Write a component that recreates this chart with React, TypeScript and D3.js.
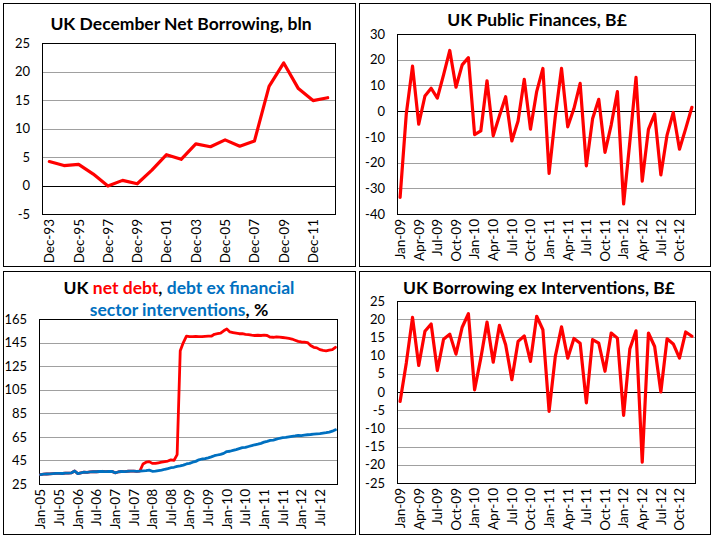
import React, { useEffect, useRef } from "react";
import * as d3 from "d3";

// Panel 1: December net borrowing
const decYears = [
  "Dec-93", "Dec-94", "Dec-95", "Dec-96", "Dec-97", "Dec-98", "Dec-99", "Dec-00", "Dec-01", "Dec-02",
  "Dec-03", "Dec-04", "Dec-05", "Dec-06", "Dec-07", "Dec-08", "Dec-09", "Dec-10", "Dec-11", "Dec-12",
];
const decBorrowing = [4.2, 3.5, 3.7, 2.0, -0.1, 0.9, 0.3, 2.7, 5.4, 4.6, 7.3, 6.8, 8.0, 6.9, 7.8, 17.4, 21.5, 17.0, 14.9, 15.4];
const decTicks = ["Dec-93", "Dec-95", "Dec-97", "Dec-99", "Dec-01", "Dec-03", "Dec-05", "Dec-07", "Dec-09", "Dec-11"];
const decYTicks = [-5, 0, 5, 10, 15, 20, 25];

// Panels 2 and 4: monthly 2009-2012
const fmtMonth = d3.timeFormat("%b-%y");
const finMonths = d3.timeMonth.range(new Date(2009, 0, 1), new Date(2013, 0, 1)).map(fmtMonth);
const publicFinances = [
  -33.5, -1, 17.5, -5.1, 5.9, 8.9, 5.1, 14.1, 23.6, 9.3, 18.0, 20.8,
  -9.1, -7.7, 11.8, -9.6, -1.8, 5.6, -11.6, -3.8, 12.4, -7.0, 7.6, 16.6,
  -24.2, -2.0, 16.6, -6.1, 1.0, 10.8, -21.3, -3.0, 4.6, -16.0, -5.4, 7.6,
  -36.1, -12.0, 13.1, -27.2, -7.1, -1.1, -24.8, -9.3, -0.5, -14.8, -6.8, 1.5,
];
const finTicks = [
  "Jan-09", "Apr-09", "Jul-09", "Oct-09", "Jan-10", "Apr-10", "Jul-10", "Oct-10",
  "Jan-11", "Apr-11", "Jul-11", "Oct-11", "Jan-12", "Apr-12", "Jul-12", "Oct-12",
];
const finYTicks = [-40, -30, -20, -10, 0, 10, 20, 30];

const exInterventions = [
  -2.6, 8.0, 20.5, 7.3, 16.7, 18.7, 5.9, 14.5, 15.9, 10.4, 17.8, 21.5,
  0.6, 9.3, 19.2, 8.2, 18.3, 13.0, 3.4, 13.9, 15.4, 8.4, 20.8, 17.1,
  -5.3, 9.8, 17.9, 9.3, 14.7, 13.4, -3.0, 14.4, 13.4, 5.7, 16.2, 14.8,
  -6.4, 11.8, 16.8, -19.3, 16.2, 12.5, 0.0, 14.6, 13.2, 9.3, 16.5, 15.3,
];
const exYTicks = [-25, -20, -15, -10, -5, 0, 5, 10, 15, 20, 25];

// Panel 3: net debt, monthly 2005-2012
const debtMonths = d3.timeMonth.range(new Date(2005, 0, 1), new Date(2013, 0, 1)).map(fmtMonth);
const netDebt = [
  33.0, 33.3, 33.5, 33.6, 33.8, 34.0, 34.0, 33.9, 34.2, 34.3, 34.5, 36.0,
  33.8, 34.5, 35.0, 34.8, 35.2, 35.5, 35.4, 35.6, 35.8, 35.5, 35.6, 35.7,
  34.5, 35.2, 35.6, 35.5, 35.8, 35.9, 36.0, 35.8, 36.0, 42.0, 43.5, 44.0,
  42.5, 42.5, 43.0, 43.5, 44.0, 44.5, 45.5, 45.0, 50.0, 138.0, 145.0, 150.5,
  150.0, 150.0, 150.2, 150.0, 150.0, 150.3, 150.5, 150.4, 152.0, 152.5, 153.0, 155.0,
  156.5, 154.0, 153.5, 153.0, 152.5, 152.6, 152.0, 151.8, 151.3, 151.0, 151.2, 151.0,
  151.3, 151.0, 149.6, 149.5, 149.8, 149.6, 149.3, 149.0, 148.5, 148.0, 147.0, 146.0,
  145.5, 145.3, 145.0, 142.5, 141.0, 140.5, 139.0, 138.3, 138.0, 138.5, 139.0, 141.0,
];
const debtExFin = [
  33.0, 33.3, 33.5, 33.6, 33.8, 34.0, 34.0, 33.9, 34.2, 34.3, 34.5, 36.0,
  33.8, 34.5, 35.0, 34.8, 35.2, 35.5, 35.4, 35.6, 35.8, 35.5, 35.6, 35.7,
  34.5, 35.2, 35.6, 35.5, 35.8, 35.9, 36.0, 35.8, 36.0, 36.2, 36.3, 36.8,
  35.8, 36.0, 36.4, 36.8, 37.5, 38.0, 38.8, 39.2, 40.0, 40.3, 41.0, 42.0,
  42.5, 43.5, 44.2, 45.5, 46.2, 46.5, 47.2, 48.0, 49.0, 49.6, 50.2, 51.0,
  52.5, 52.8, 53.5, 54.2, 55.0, 55.8, 56.0, 56.8, 57.5, 58.3, 58.8, 59.5,
  60.5, 61.2, 62.0, 62.3, 63.0, 63.8, 64.3, 64.5, 65.0, 65.5, 65.8, 66.2,
  66.0, 66.5, 66.8, 67.0, 67.3, 67.6, 67.8, 68.2, 68.5, 69.0, 69.8, 71.0,
];
const debtTicks = [
  "Jan-05", "Jul-05", "Jan-06", "Jul-06", "Jan-07", "Jul-07", "Jan-08", "Jul-08",
  "Jan-09", "Jul-09", "Jan-10", "Jul-10", "Jan-11", "Jul-11", "Jan-12", "Jul-12",
];
const debtYTicks = [25, 45, 65, 85, 105, 125, 145, 165];

const RED = "#FF0000";
const BLUE = "#0070C0";
const FONT = "Lato, 'DejaVu Sans', sans-serif";

interface Series {
  values: number[];
  color: string;
  width: number;
}

interface PanelOpts {
  box: [number, number, number, number];
  plot: { x0: number; x1: number; y0: number; y1: number };
  categories: string[];
  ticks: string[];
  yTicks: number[];
  series: Series[];
  zeroLine: boolean;
}

function drawPanel(svg: d3.Selection<SVGSVGElement, unknown, null, undefined>, o: PanelOpts) {
  const [bx, by, bw, bh] = o.box;
  svg.append("rect")
    .attr("x", bx + 0.5).attr("y", by + 0.5)
    .attr("width", bw).attr("height", bh)
    .attr("fill", "white").attr("stroke", "black");

  const { x0, x1, y0, y1 } = o.plot;
  const x = d3.scalePoint<string>().domain(o.categories).range([x0, x1]).padding(0.5);
  const y = d3.scaleLinear()
    .domain([o.yTicks[0], o.yTicks[o.yTicks.length - 1]])
    .range([y1, y0]);

  const g = svg.append("g");

  // gridlines
  g.selectAll(".grid")
    .data(o.yTicks.slice(1, -1))
    .enter()
    .append("line")
    .attr("x1", x0).attr("x2", x1)
    .attr("y1", (d) => Math.round(y(d)) + 0.5)
    .attr("y2", (d) => Math.round(y(d)) + 0.5)
    .attr("stroke", (d) => (o.zeroLine && d === 0 ? "black" : "#A0A0A0"))
    .attr("stroke-width", 1);

  g.append("rect")
    .attr("x", Math.round(x0) + 0.5).attr("y", Math.round(y0) + 0.5)
    .attr("width", Math.round(x1 - x0)).attr("height", Math.round(y1 - y0))
    .attr("fill", "none").attr("stroke", "black");

  // y labels
  g.selectAll(".ylab")
    .data(o.yTicks)
    .enter()
    .append("text")
    .attr("x", x0 - 12)
    .attr("y", (d) => y(d))
    .attr("dy", "0.36em")
    .attr("text-anchor", "end")
    .attr("font-family", FONT)
    .attr("font-size", 13)
    .text((d) => d);

  // x labels, rotated
  g.selectAll(".xlab")
    .data(o.ticks)
    .enter()
    .append("text")
    .attr("transform", (d) => `translate(${x(d)},${y1 + 5}) rotate(-90)`)
    .attr("dy", "0.36em")
    .attr("text-anchor", "end")
    .attr("font-family", FONT)
    .attr("font-size", 13.5)
    .text((d) => d);

  const line = d3.line<number>()
    .x((_, i) => x(o.categories[i]) as number)
    .y((d) => y(d));

  o.series.forEach((s) => {
    g.append("path")
      .datum(s.values)
      .attr("fill", "none")
      .attr("stroke", s.color)
      .attr("stroke-width", s.width)
      .attr("stroke-linejoin", "round")
      .attr("stroke-linecap", "round")
      .attr("d", line);
  });
}

const App: React.FC = () => {
  const svgRef = useRef<SVGSVGElement>(null);

  useEffect(() => {
    if (!svgRef.current) return;
    const svg = d3.select(svgRef.current);
    svg.selectAll("*").remove();

    svg.append("rect").attr("width", 712).attr("height", 538).attr("fill", "white");

    drawPanel(svg, {
      box: [3, 3, 352, 263],
      plot: { x0: 42, x1: 335, y0: 43, y1: 214 },
      categories: decYears,
      ticks: decTicks,
      yTicks: decYTicks,
      series: [{ values: decBorrowing, color: RED, width: 3.2 }],
      zeroLine: true,
    });

    drawPanel(svg, {
      box: [359, 3, 351, 263],
      plot: { x0: 397, x1: 695, y0: 34, y1: 214 },
      categories: finMonths,
      ticks: finTicks,
      yTicks: finYTicks,
      series: [{ values: publicFinances, color: RED, width: 3.2 }],
      zeroLine: true,
    });

    drawPanel(svg, {
      box: [3, 271, 352, 263],
      plot: { x0: 39, x1: 337, y0: 319, y1: 484 },
      categories: debtMonths,
      ticks: debtTicks,
      yTicks: debtYTicks,
      series: [
        { values: netDebt, color: RED, width: 2.8 },
        { values: debtExFin, color: BLUE, width: 2.8 },
      ],
      zeroLine: false,
    });

    drawPanel(svg, {
      box: [359, 271, 351, 263],
      plot: { x0: 397, x1: 695, y0: 301, y1: 483 },
      categories: finMonths,
      ticks: finTicks,
      yTicks: exYTicks,
      series: [{ values: exInterventions, color: RED, width: 3.2 }],
      zeroLine: true,
    });

    const title = (tx: number, ty: number, text: string) =>
      svg.append("text")
        .attr("x", tx).attr("y", ty)
        .attr("text-anchor", "middle")
        .attr("font-family", FONT)
        .attr("font-weight", "bold")
        .attr("font-size", 17.5)
        .text(text);

    title(181, 29.5, "UK December Net Borrowing, bln");
    title(537, 25.5, "UK Public Finances, B£");
    title(539, 294, "UK Borrowing ex Interventions, B£");

    const t1 = svg.append("text")
      .attr("x", 179).attr("y", 294)
      .attr("text-anchor", "middle")
      .attr("font-family", FONT)
      .attr("font-weight", "bold")
      .attr("font-size", 17.5);
    t1.append("tspan").attr("fill", "black").text("UK ");
    t1.append("tspan").attr("fill", RED).text("net debt");
    t1.append("tspan").attr("fill", "black").text(", ");
    t1.append("tspan").attr("fill", BLUE).text("debt ex financial");

    const t2 = svg.append("text")
      .attr("x", 179).attr("y", 316)
      .attr("text-anchor", "middle")
      .attr("font-family", FONT)
      .attr("font-weight", "bold")
      .attr("font-size", 17.5);
    t2.append("tspan").attr("fill", BLUE).text("sector interventions");
    t2.append("tspan").attr("fill", "black").text(", %");
  }, []);

  return (
    <svg
      ref={svgRef}
      width={712}
      height={538}
      style={{ position: "absolute", left: 0, top: 0, display: "block" }}
    />
  );
};

export default App;
